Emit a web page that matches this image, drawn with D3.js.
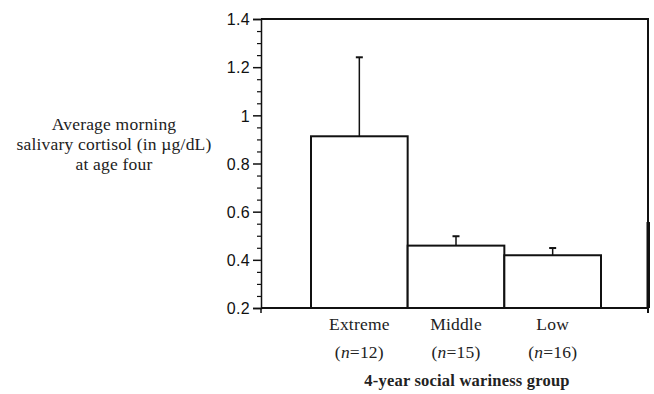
<!DOCTYPE html>
<html>
<head>
<meta charset="utf-8">
<script src="https://cdn.jsdelivr.net/npm/d3@7"></script>
<style>
  body { margin: 0; background: #fff; overflow: hidden; }
  svg { display: block; }
  .tick text { font-family: "Liberation Sans", Arial, sans-serif; font-size: 16px; fill: #111; letter-spacing: 0.3px; }
  .serif { font-family: "Liberation Serif", "Times New Roman", serif; font-size: 17.5px; fill: #222; letter-spacing: 0.2px; }
  .title { font-weight: bold; font-size: 16.5px; }
</style>
</head>
<body>
<div id="chart"></div>
<script>
var groups = ['Extreme', 'Middle', 'Low']
var nCounts = [12, 15, 16]
var means = [0.913, 0.459, 0.419]
var errs = [0.328, 0.039, 0.030]
var yTicks = [0.2, 0.4, 0.6, 0.8, 1, 1.2, 1.4]
var yMinor = d3.range(0.25, 1.4, 0.05).filter(function(v){ return Math.abs(v * 5 - Math.round(v * 5)) > 0.01 })
var yLabel = ['Average morning', 'salivary cortisol (in \u00b5g/dL)', 'at age four']
var xTitle = '4-year social wariness group'

var data = groups.map(function(g, i){ return {group: g, n: nCounts[i], mean: means[i], err: errs[i]} })

var margin = {left: 261, right: 6, top: 19, bottom: 86}
var totalWidth = 654, totalHeight = 394
var width = totalWidth - margin.left - margin.right
var height = totalHeight - margin.top - margin.bottom

var svg = d3.select('#chart').append('svg')
  .attr('width', totalWidth).attr('height', totalHeight)
var g = svg.append('g').attr('transform', 'translate(' + margin.left + ',' + margin.top + ')')

var x = d3.scaleBand().domain(groups).range([50, 340]).padding(0)
var y = d3.scaleLinear().domain([0.2, 1.4]).range([height, 0])

// frame: top, bottom, right
g.append('line').attr('x1', 0).attr('x2', width).attr('y1', 0).attr('y2', 0)
  .attr('stroke', '#111').attr('stroke-width', 2)
g.append('line').attr('x1', 0).attr('x2', width).attr('y1', height).attr('y2', height)
  .attr('stroke', '#111').attr('stroke-width', 2)
g.append('line').attr('x1', width).attr('x2', width).attr('y1', -1).attr('y2', height + 5)
  .attr('stroke', '#111').attr('stroke-width', 2)

// dark scan edge on right side
g.append('rect').attr('x', width - 1.5).attr('y', y(0.557)).attr('width', 3.5).attr('height', height - y(0.557))
  .attr('fill', '#111')

// bars
g.selectAll('rect.bar').data(data).enter().append('rect')
  .attr('class', 'bar')
  .attr('x', function(d){ return x(d.group) })
  .attr('y', function(d){ return y(d.mean) })
  .attr('width', x.bandwidth())
  .attr('height', function(d){ return height - y(d.mean) })
  .attr('fill', '#fff').attr('stroke', '#111').attr('stroke-width', 2)

// error bars
var eb = g.selectAll('g.err').data(data).enter().append('g').attr('class', 'err')
eb.append('line')
  .attr('x1', function(d){ return x(d.group) + x.bandwidth() / 2 })
  .attr('x2', function(d){ return x(d.group) + x.bandwidth() / 2 })
  .attr('y1', function(d){ return y(d.mean) })
  .attr('y2', function(d){ return y(d.mean + d.err) })
  .attr('stroke', '#111').attr('stroke-width', 1.5)
eb.append('line')
  .attr('x1', function(d){ return x(d.group) + x.bandwidth() / 2 - 3.5 })
  .attr('x2', function(d){ return x(d.group) + x.bandwidth() / 2 + 3.5 })
  .attr('y1', function(d){ return y(d.mean + d.err) })
  .attr('y2', function(d){ return y(d.mean + d.err) })
  .attr('stroke', '#111').attr('stroke-width', 2)

// y axis
var yAxis = g.append('g')
  .call(d3.axisLeft(y).tickValues(yTicks).tickSize(8).tickPadding(3).tickFormat(d3.format('')))
yAxis.select('.domain').attr('stroke', '#111').attr('stroke-width', 1.5)
yAxis.selectAll('.tick line').attr('stroke', '#111').attr('stroke-width', 1.5)
yAxis.selectAll('.tick text').attr('dy', '0.36em')

var yMin = g.append('g')
  .call(d3.axisLeft(y).tickValues(yMinor).tickSize(4).tickFormat(''))
yMin.select('.domain').remove()
yMin.selectAll('.tick line').attr('stroke', '#111').attr('stroke-width', 1.2)

// small stub below the baseline on the left
g.append('line').attr('x1', 0).attr('x2', 0).attr('y1', height).attr('y2', height + 5).attr('stroke', '#111').attr('stroke-width', 1.5)

// category labels
var lab = g.selectAll('g.cat').data(data).enter().append('g').attr('class', 'cat')
  .attr('transform', function(d){ return 'translate(' + (x(d.group) + x.bandwidth() / 2) + ',' + height + ')' })
lab.append('text').attr('class', 'serif').attr('text-anchor', 'middle').attr('y', 22)
  .text(function(d){ return d.group })
var nt = lab.append('text').attr('class', 'serif').attr('text-anchor', 'middle').attr('y', 50)
nt.append('tspan').text('(')
nt.append('tspan').attr('font-style', 'italic').text('n')
nt.append('tspan').text(function(d){ return '=' + d.n + ')' })

// x title
g.append('text').attr('class', 'serif title').attr('text-anchor', 'middle')
  .attr('x', 206).attr('y', height + 78)
  .text(xTitle)

// y label
svg.append('text').attr('class', 'serif').attr('text-anchor', 'middle')
  .selectAll('tspan').data(yLabel).enter().append('tspan')
  .attr('x', 114).attr('y', function(d, i){ return 130 + i * 20 })
  .text(function(d){ return d })
</script>
</body>
</html>
